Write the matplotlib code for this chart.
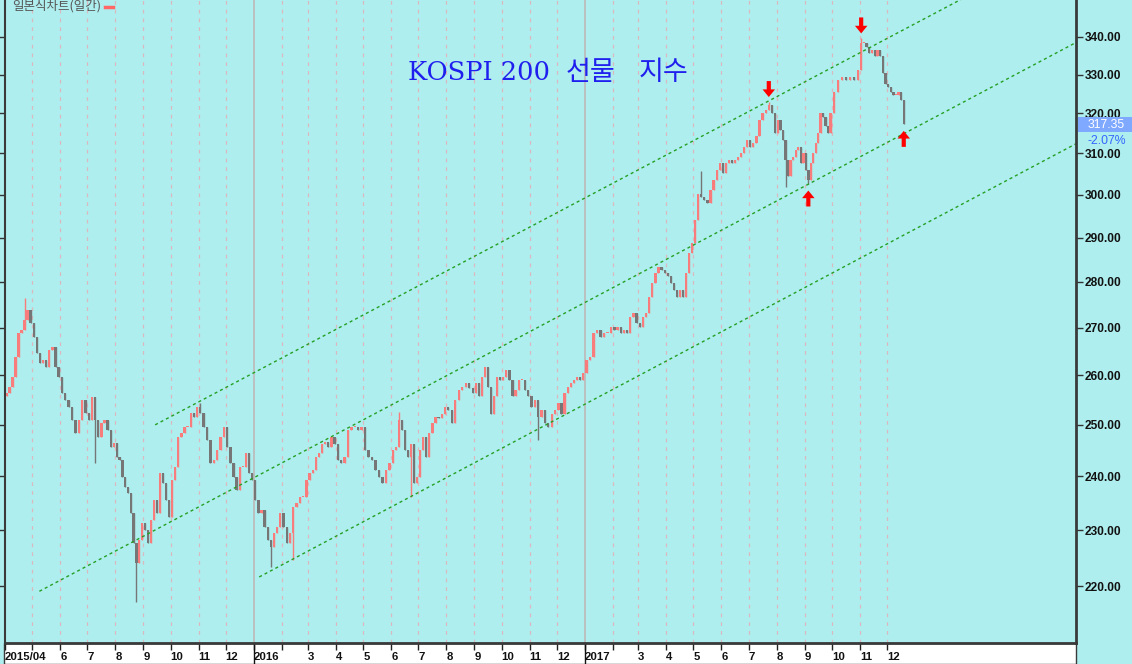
import numpy as np
import pandas as pd
import matplotlib
matplotlib.use("Agg")
import matplotlib.pyplot as plt
import matplotlib.dates as mdates
import matplotlib.transforms as mtransforms
from matplotlib.ticker import FixedLocator, NullLocator, FuncFormatter
from matplotlib.patches import Rectangle
from matplotlib.lines import Line2D

# ---------------- data ----------------
# closes sampled every ~2-3 trading days, grouped by month
closes_2015 = [
    [256.4, 257.6, 259.6, 263.8, 268.9, 269.5, 271.7, 273.8, 271.1],          # Apr
    [268.0, 264.7, 262.6, 263.2, 261.7, 265.3, 265.9, 261.7, 259.6],          # May
    [256.4, 255.0, 253.6, 250.9, 248.4, 250.9, 255.0, 252.3],                 # Jun
    [250.9, 255.6, 250.9, 247.6, 250.3, 250.9, 249.0, 245.6, 246.4],          # Jul
    [243.7, 243.1, 239.9, 238.0, 236.8, 233.1, 227.6, 224.0, 228.2, 231.3],   # Aug
    [230.0, 227.6, 231.8, 235.5, 233.1, 240.6, 238.7, 235.5, 232.4],          # Sep
    [239.3, 241.8, 247.6, 248.4, 249.6, 249.6, 252.3, 251.5, 253.5],          # Oct
    [252.3, 249.6, 247.0, 242.5, 243.1, 245.0, 247.6, 249.6],                 # Nov
    [245.6, 242.5, 239.9, 237.4, 241.8, 241.8, 244.4, 240.6, 239.3],          # Dec
]
closes_2016 = [
    [235.5, 233.1, 233.7, 230.5, 228.2, 226.9, 229.5, 230.5, 233.1],          # Jan
    [230.5, 227.6, 229.5, 234.3, 235.0, 236.1, 236.1, 239.3],                 # Feb
    [240.6, 241.2, 243.7, 244.4, 246.3, 246.6, 245.7, 247.7, 246.3],          # Mar
    [243.1, 242.5, 243.7, 249.0, 249.6, 249.6, 249.0, 249.6],                 # Apr
    [245.0, 243.7, 243.1, 241.2, 239.9, 238.7, 241.2, 242.5],                 # May
    [245.0, 245.7, 250.9, 249.0, 245.0, 243.7, 246.3, 238.7, 239.9],          # Jun
    [245.0, 247.7, 243.7, 248.4, 250.3, 251.6, 251.3, 252.2, 253.6],          # Jul
    [252.9, 250.3, 255.0, 257.0, 257.7, 258.4, 257.4, 256.4],                 # Aug
    [258.4, 255.7, 259.7, 261.8, 257.7, 252.2, 255.7, 259.7, 259.0],          # Sep
    [259.7, 261.1, 259.0, 255.7, 257.0, 259.0, 259.0, 257.0, 255.7],          # Oct
    [253.6, 255.0, 251.6, 252.9, 250.3, 249.6, 252.2, 252.9],                 # Nov
    [254.3, 252.2, 256.4, 257.7, 258.4, 259.0, 259.7, 259.0, 260.4],          # Dec
]
closes_2017 = [
    [263.2, 263.9, 268.8, 269.5, 268.1, 268.8, 268.8, 270.2],                 # Jan
    [269.5, 270.2, 268.8, 269.5, 268.8, 272.4, 273.1, 271.0],                 # Feb
    [270.2, 272.4, 273.1, 276.7, 279.7, 281.9, 283.4, 282.6, 281.9],          # Mar
    [281.2, 279.7, 278.2, 276.7, 278.2, 276.7, 281.9, 286.5, 288.7],          # Apr
    [294.1, 300.3, 299.5, 298.8, 298.1, 301.1, 303.5, 306.0, 307.6],          # May
    [305.2, 307.6, 308.4, 307.6, 308.4, 309.2, 310.1, 311.7, 313.3],          # Jun
    [311.7, 312.5, 314.2, 318.3, 320.0, 320.9, 322.2, 320.0, 315.0],          # Jul
    [318.3, 315.8, 313.3, 308.4, 304.4, 308.4, 309.2, 310.9, 311.7, 307.6, 310.1],  # Aug
    [306.0, 303.5, 307.6, 310.1, 312.5, 315.0, 320.0, 319.2, 316.7, 315.0, 320.0],  # Sep
    [325.5, 328.6, 329.4, 328.6, 329.4, 328.6, 331.2],                        # Oct
    [338.3, 338.3, 337.4, 335.6, 336.5, 334.8, 336.5, 334.8, 330.3, 327.6],   # Nov
    [326.7, 325.5, 324.6, 324.6, 325.5, 323.4, 317.35],                       # Dec
]
first_month = "2015-04"
last_month = "2017-12"
last_session_end = "2017-12-21"

# notable intraday extremes (wicks)
wick_high_dates = ["2015-04-24", "2015-11-02", "2016-06-09", "2017-05-10", "2017-07-24", "2017-11-03"]
wick_high_vals = [276.4, 254.3, 252.6, 305.6, 322.9, 339.6]
wick_low_dates = ["2015-07-09", "2015-08-24", "2016-01-21", "2016-02-12", "2016-06-24",
                  "2016-11-09", "2017-08-11", "2017-09-05"]
wick_low_vals = [242.5, 217.2, 223.4, 224.6, 236.1, 247.0, 301.9, 302.7]

# trend channel anchor points (date, value)
chan_upper = (["2015-09-14", "2017-12-26"], [250.0, 342.8])
chan_mid = (["2015-05-09", "2018-06-28"], [219.1, 338.5])
chan_lower = (["2016-01-07", "2018-06-28"], [221.6, 312.4])

# arrow marks: (date, direction)
arrow_marks = [("2017-07-24", "down"), ("2017-11-03", "down"),
               ("2017-09-05", "up"), ("2017-12-20", "up")]

y_ticks = [220, 230, 240, 250, 260, 270, 280, 290, 300, 310, 320, 330, 340]
last_price = "317.35"
last_change = "-2.07%"
title_latin = "KOSPI 200"
title_korean = ["선물", "지수"]
chart_label = "일본식차트(일간)"

# ---------------- styling ----------------
BG = "#AFEEEE"
UP = "#F87C7C"
DOWN = "#767676"
GRID = "#D9B9BF"
GREEN = "#25A025"

W, H = 1132, 664
fig = plt.figure(figsize=(W / 100, H / 100), dpi=100, facecolor=BG)
ax = fig.add_axes([5 / W, 21 / H, (1076 - 5) / W, 643 / H])
ax.set_facecolor(BG)

# ---------------- build candles ----------------
months = pd.period_range(first_month, last_month, freq="M")
all_closes = closes_2015 + closes_2016 + closes_2017
dates, closes = [], []
for per, vals in zip(months, all_closes):
    start = per.start_time
    end = pd.Timestamp(last_session_end) if per == months[-1] else (per + 1).start_time
    span = (end - start) / len(vals)
    for k, v in enumerate(vals):
        dates.append(start + span * (k + 0.5))
        closes.append(v)
x = mdates.date2num(dates)
closes = np.array(closes)
opens = np.r_[closes[0] - 0.6, closes[:-1]]
highs = np.maximum(opens, closes)
lows = np.minimum(opens, closes)
for d, v in zip(wick_high_dates, wick_high_vals):
    i = int(np.argmin(np.abs(x - mdates.date2num(pd.Timestamp(d)))))
    highs[i] = max(highs[i], v)
for d, v in zip(wick_low_dates, wick_low_vals):
    i = int(np.argmin(np.abs(x - mdates.date2num(pd.Timestamp(d)))))
    lows[i] = min(lows[i], v)

colors = np.where(closes >= opens, UP, DOWN)
body_bot = np.minimum(opens, closes)
body_h = np.maximum(np.abs(closes - opens), 0.25)
ax.vlines(x, lows, highs, colors=colors, lw=1.0, zorder=3)
ax.bar(x, body_h, bottom=body_bot, width=2.6, color=colors, linewidth=0, zorder=4)

# ---------------- axes ----------------
ax.set_yscale("log")
ax.set_ylim(210.3, 350.1)
x0 = mdates.date2num(pd.Timestamp("2015-04-01"))
x1 = mdates.date2num(pd.Timestamp("2018-06-28"))
ax.set_xlim(x0, x1)

ax.yaxis.set_major_locator(FixedLocator(y_ticks))
ax.yaxis.set_minor_locator(NullLocator())
ax.yaxis.set_major_formatter(FuncFormatter(lambda v, p: f"{v:.2f}"))
ax.yaxis.set_minor_formatter(FuncFormatter(lambda v, p: ""))
ax.tick_params(axis="y", which="major", left=True, right=True, labelleft=False, labelright=True,
               direction="out", length=5, width=1, color="#333333", pad=1.5,
               labelsize=8.6, labelcolor="#111111")
for lab in ax.get_yticklabels():
    lab.set_fontfamily("Liberation Sans")
    lab.set_fontweight("bold")

tick_dates = [per.start_time for per in months]
tick_x = mdates.date2num(tick_dates)
tick_labels = []
for i, per in enumerate(months):
    if i == 0:
        tick_labels.append(f"{per.year}/{per.month:02d}")
    elif per.month == 1:
        tick_labels.append(str(per.year))
    elif i == 1 or per.month == 2:
        tick_labels.append("")
    else:
        tick_labels.append(str(per.month))
ax.set_xticks(tick_x)
ax.set_xticklabels(tick_labels, fontsize=8.2, fontfamily="Liberation Sans",
                   fontweight="bold", color="#111111")
ax.xaxis.set_minor_locator(NullLocator())
ax.tick_params(axis="x", direction="out", length=5, width=1, color="#222222", pad=1.5)
for lab in ax.get_xticklabels():
    lab.set_horizontalalignment("left")

ax.spines["top"].set_visible(False)
for s, lw in (("right", 2), ("left", 1.5), ("bottom", 2)):
    ax.spines[s].set_linewidth(lw)
    ax.spines[s].set_color("#3a3a3a")
    ax.spines[s].set_zorder(6)

# vertical month grid
for per, xv in zip(months, tick_x):
    if per == months[0]:
        continue
    if per.month == 1:
        ax.axvline(xv, color="#BDBDBD", lw=1.3, zorder=1)
    else:
        ax.axvline(xv, color=GRID, lw=0.9, ls=(0, (3, 4)), zorder=1)

# white date strip + year separators
ax.add_patch(Rectangle((-1 / 1071, -21 / 643), 1 + 1 / 1071, 21 / 643, transform=ax.transAxes,
                       facecolor="white", edgecolor="#3a3a3a", lw=1, clip_on=False, zorder=0.5))
blend = mtransforms.blended_transform_factory(ax.transData, ax.transAxes)
for per, xv in zip(months, tick_x):
    if per.month == 1:
        ax.plot([xv, xv], [0, -21 / 643], transform=blend, color="#111111", lw=1,
                clip_on=False, zorder=5)

# ---------------- trend channel ----------------
for dts, vals in (chan_upper, chan_mid, chan_lower):
    xa = mdates.date2num([pd.Timestamp(d) for d in dts])
    la = np.log(vals)
    slope = (la[1] - la[0]) / (xa[1] - xa[0])
    xe = np.array([xa[0], x1])
    ye = np.exp(la[0] + slope * (xe - xa[0]))
    ax.plot(xe, ye, color=GREEN, lw=1.0, ls=(0, (2.2, 2.2)), zorder=5)

# ---------------- arrows ----------------
for d, kind in arrow_marks:
    xd = mdates.date2num(pd.Timestamp(d))
    i = int(np.argmin(np.abs(x - xd)))
    if kind == "down":
        tr = mtransforms.offset_copy(ax.transData, fig=fig, x=0, y=5, units="dots")
        xy, off = (x[i], highs[i]), (0, 11.5)
    else:
        tr = mtransforms.offset_copy(ax.transData, fig=fig, x=0, y=-7, units="dots")
        xy, off = (x[i], lows[i]), (0, -11.5)
    ax.annotate("", xy=xy, xycoords=tr, xytext=off, textcoords="offset points",
                arrowprops=dict(facecolor="#FF0000", edgecolor="none", width=3,
                                headwidth=9, headlength=5.5, shrink=0), zorder=6)

# ---------------- texts ----------------
fig.text(408 / W, 1 - 73 / H, title_latin, color="#2020EE", fontsize=18.5,
         family=["DejaVu Serif", "Noto Sans CJK KR"], ha="left", va="center")
for word, xl in zip(title_korean, (566, 639)):
    fig.text(xl / W, 1 - 72 / H, word, color="#2020EE", fontsize=19.5,
             family=["Noto Sans CJK KR", "DejaVu Sans"], ha="left", va="center")
fig.text(12 / W, 1 - 10 / H, chart_label, color="#555555", fontsize=9,
         family=["Noto Sans CJK KR", "DejaVu Sans"], ha="left", va="baseline")
fig.add_artist(Line2D([105 / W, 113 / W], [1 - 7 / H, 1 - 7 / H], color="#FF6666", lw=2.5))

fig.patches.append(Rectangle((1078 / W, 1 - 132 / H), (W - 1078) / W, 15 / H,
                             transform=fig.transFigure, facecolor="#7FA8FF", edgecolor="none",
                             zorder=3))
fig.text(1125 / W, 1 - 124.5 / H, last_price, color="white", fontsize=8.8,
         family="Liberation Sans", ha="right", va="center", zorder=4)
fig.text(1126 / W, 1 - 141 / H, last_change, color="#3366FF", fontsize=8.8,
         family="Liberation Sans", ha="right", va="center")

fig.savefig("out.png", dpi=100, facecolor=BG)
